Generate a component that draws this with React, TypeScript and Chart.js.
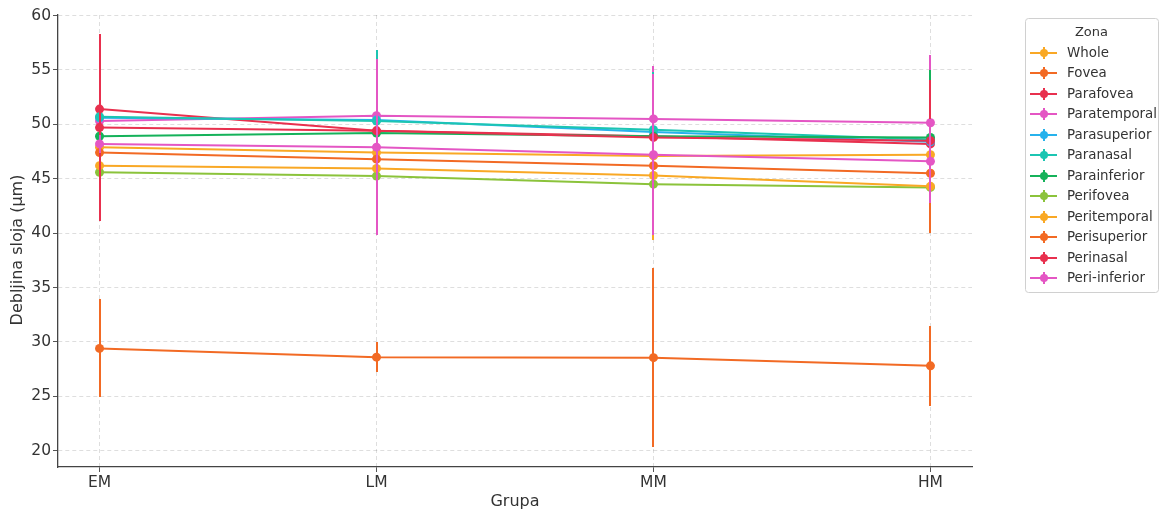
import React, { useEffect, useRef } from "react";
import { Chart, registerables } from "chart.js";

Chart.register(...registerables);

const groups = ["EM", "LM", "MM", "HM"];
const yTicks = [20, 25, 30, 35, 40, 45, 50, 55, 60];
const xTitle = "Grupa";
const yTitle = "Debljina sloja (µm)";
const legendTitle = "Zona";

const zones = [
  "Whole", "Fovea", "Parafovea", "Paratemporal", "Parasuperior", "Paranasal",
  "Parainferior", "Perifovea", "Peritemporal", "Perisuperior", "Perinasal", "Peri-inferior",
];
const zoneColors = [
  "#F9A825", "#F26A24", "#E8304E", "#E456C4", "#27B2EC", "#1CC5B2",
  "#15B25A", "#8BC33B", "#F9A825", "#F26A24", "#E8304E", "#E456C4",
];

const whole = [47.9, 47.4, 47.1, 47.2];
const wholeErr = [4.0, 4.5, 5.0, 4.5];
const fovea = [29.4, 28.6, 28.55, 27.8];
const foveaErr = [4.5, 1.4, 8.2, 3.7];
const parafovea = [51.4, 49.4, 48.9, 48.2];
const parafoveaErr = [5.0, 5.0, 5.0, 5.0];
const paratemporal = [50.3, 50.8, 50.5, 50.15];
const paratemporalErr = [5.0, 5.0, 4.9, 6.25];
const parasuperior = [50.6, 50.4, 49.3, 48.4];
const parasuperiorErr = [5.0, 5.5, 4.5, 5.0];
const paranasal = [50.7, 50.3, 49.5, 48.6];
const paranasalErr = [5.0, 6.5, 5.3, 5.5];
const parainferior = [48.9, 49.2, 48.9, 48.8];
const parainferiorErr = [5.0, 5.0, 4.5, 6.2];
const perifovea = [45.6, 45.25, 44.5, 44.2];
const perifoveaErr = [3.5, 4.0, 4.0, 3.5];
const peritemporal = [46.2, 45.95, 45.3, 44.3];
const peritemporalErr = [4.0, 4.5, 5.9, 4.0];
const perisuperior = [47.4, 46.8, 46.2, 45.5];
const perisuperiorErr = [5.0, 5.0, 5.0, 5.5];
const perinasal = [49.7, 49.4, 48.8, 48.5];
const perinasalErr = [8.6, 5.5, 5.0, 5.6];
const periinferior = [48.2, 47.9, 47.2, 46.6];
const periinferiorErr = [0.8, 8.1, 7.4, 3.85];

const seriesValues = [
  whole, fovea, parafovea, paratemporal, parasuperior, paranasal,
  parainferior, perifovea, peritemporal, perisuperior, perinasal, periinferior,
];
const seriesErrors = [
  wholeErr, foveaErr, parafoveaErr, paratemporalErr, parasuperiorErr, paranasalErr,
  parainferiorErr, perifoveaErr, peritemporalErr, perisuperiorErr, perinasalErr, periinferiorErr,
];

const FONT = "'DejaVu Sans', sans-serif";

const errorBarPlugin = {
  id: "errorBars",
  beforeDatasetDraw(chart: any, args: any) {
    const ds: any = chart.data.datasets[args.index];
    const errs: number[] = ds.errs;
    if (!errs) return;
    const xs = chart.scales.x;
    const ys = chart.scales.y;
    const ctx = chart.ctx;
    ctx.save();
    ctx.strokeStyle = ds.borderColor;
    ctx.lineWidth = 2;
    ctx.lineCap = "butt";
    ds.data.forEach((pt: any, j: number) => {
      const x = Math.round(xs.getPixelForValue(pt.x));
      ctx.beginPath();
      ctx.moveTo(x, Math.round(ys.getPixelForValue(pt.y - errs[j])));
      ctx.lineTo(x, Math.round(ys.getPixelForValue(pt.y + errs[j])));
      ctx.stroke();
    });
    ctx.restore();
  },
};

const titlesPlugin = {
  id: "axisTitles",
  afterDraw(chart: any) {
    const ctx = chart.ctx;
    const area = chart.chartArea;
    ctx.save();
    ctx.fillStyle = "#333";
    ctx.font = `16px ${FONT}`;
    ctx.textAlign = "center";
    ctx.textBaseline = "middle";
    ctx.fillText(xTitle, (area.left + area.right) / 2, 502);
    ctx.translate(18, (area.top + area.bottom) / 2 + 9);
    ctx.rotate(-Math.PI / 2);
    ctx.fillText(yTitle, 0, 0);
    ctx.restore();
  },
};

const legendPlugin = {
  id: "boxLegend",
  afterDraw(chart: any) {
    const ctx = chart.ctx;
    const left = 1025;
    const top = 18;
    const w = 133;
    const h = 274;
    ctx.save();
    ctx.fillStyle = "rgba(255,255,255,0.9)";
    ctx.strokeStyle = "#d0d0d0";
    ctx.lineWidth = 1;
    ctx.beginPath();
    (ctx as any).roundRect(left + 0.5, top + 0.5, w, h, 3);
    ctx.fill();
    ctx.stroke();
    ctx.fillStyle = "#333";
    ctx.font = `13px ${FONT}`;
    ctx.textAlign = "center";
    ctx.textBaseline = "middle";
    ctx.fillText(legendTitle, left + w / 2, top + 15);
    ctx.textAlign = "left";
    ctx.font = `13.4px ${FONT}`;
    zones.forEach((z, i) => {
      const y = Math.round(top + 35 + i * 20.45);
      const c = zoneColors[i];
      ctx.strokeStyle = c;
      ctx.lineWidth = 2;
      ctx.beginPath();
      ctx.moveTo(left + 5, y);
      ctx.lineTo(left + 32, y);
      ctx.moveTo(left + 19, y - 6);
      ctx.lineTo(left + 19, y + 6);
      ctx.stroke();
      ctx.fillStyle = c;
      ctx.beginPath();
      ctx.arc(left + 19, y, 4, 0, Math.PI * 2);
      ctx.fill();
      ctx.fillStyle = "#333";
      ctx.fillText(z, left + 42, y + 0.5);
    });
    ctx.restore();
  },
};

export default function App() {
  const ref = useRef<HTMLCanvasElement | null>(null);

  useEffect(() => {
    document.body.style.margin = "0";
    const canvas = ref.current;
    if (!canvas) return;
    const n = zones.length;
    const datasets = zones.map((z, i) => ({
      label: z,
      data: seriesValues[i].map((v, j) => ({ x: j, y: v })),
      errs: seriesErrors[i],
      borderColor: zoneColors[i],
      backgroundColor: zoneColors[i],
      pointBackgroundColor: zoneColors[i],
      pointBorderWidth: 0,
      pointRadius: 4.5,
      borderWidth: 2,
      order: n - i,
      tension: 0,
    }));

    const chart = new Chart(canvas, {
      type: "line",
      data: { datasets } as any,
      plugins: [errorBarPlugin, titlesPlugin, legendPlugin],
      options: {
        animation: false,
        responsive: false,
        layout: { padding: { top: 15, right: 194, left: 0, bottom: 0 } },
        plugins: { legend: { display: false }, tooltip: { enabled: false } },
        scales: {
          x: {
            type: "linear",
            min: -0.15,
            max: 3.15,
            afterBuildTicks: (s: any) => {
              s.ticks = groups.map((_, i) => ({ value: i }));
            },
            afterFit: (s: any) => {
              s.height = 45;
            },
            ticks: {
              callback: (v: any) => groups[Math.round(Number(v))] ?? "",
              color: "#333",
              font: { family: FONT, size: 15.5 },
              padding: 2,
              maxRotation: 0,
              autoSkip: false,
            },
            grid: {
              color: "rgba(0,0,0,0.13)",
              lineWidth: 1,
              drawTicks: true,
              tickLength: 5,
              tickColor: "#555",
            },
            border: { display: true, color: "#444", width: 1.3, dash: [4, 3] },
          },
          y: {
            type: "linear",
            min: 18.5,
            max: 60.05,
            afterBuildTicks: (s: any) => {
              s.ticks = yTicks.map((v) => ({ value: v }));
            },
            afterFit: (s: any) => {
              s.width = 58;
            },
            ticks: {
              color: "#333",
              font: { family: FONT, size: 15.5 },
              padding: 2,
            },
            grid: {
              color: "rgba(0,0,0,0.13)",
              lineWidth: 1,
              drawTicks: true,
              tickLength: 5,
              tickColor: "#555",
            },
            border: { display: true, color: "#444", width: 1.3, dash: [4, 3] },
          },
        },
      } as any,
    });
    return () => chart.destroy();
  }, []);

  return (
    <div style={{ width: 1166, height: 512 }}>
      <canvas ref={ref} width={1166} height={512} />
    </div>
  );
}
